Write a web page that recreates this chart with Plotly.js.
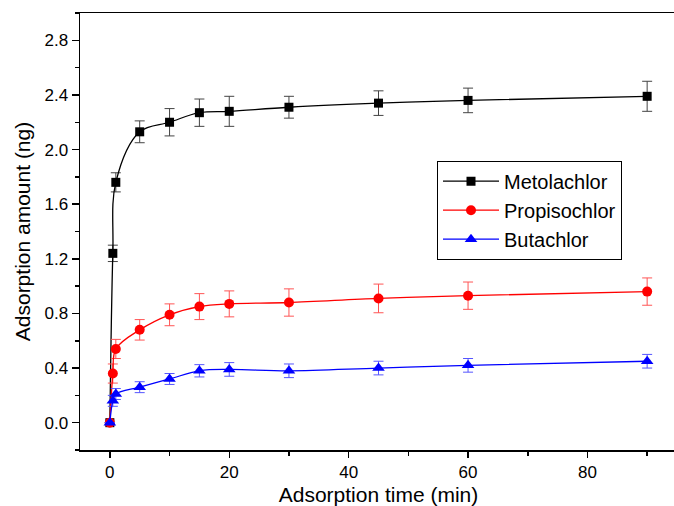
<!DOCTYPE html>
<html>
<head>
<meta charset="utf-8">
<script src="https://cdn.plot.ly/plotly-3.0.1.min.js"></script>
<style>
html,body{margin:0;padding:0;overflow:hidden;background:#fff;}
#chart{width:678px;height:506px;}
</style>
</head>
<body>
<div id="chart"></div>
<script>
var time = [0, 0.5, 1, 5, 10, 15, 20, 30, 45, 60, 90];
var metolachlor = [0, 1.24, 1.76, 2.13, 2.20, 2.27, 2.28, 2.31, 2.34, 2.36, 2.39];
var metolachlorErr = [0, 0.06, 0.07, 0.08, 0.10, 0.10, 0.11, 0.08, 0.09, 0.09, 0.11];
var propisochlor = [0, 0.36, 0.54, 0.68, 0.79, 0.85, 0.87, 0.88, 0.91, 0.93, 0.96];
var propisochlorErr = [0, 0.07, 0.07, 0.075, 0.08, 0.095, 0.095, 0.10, 0.105, 0.10, 0.10];
var butachlor = [0, 0.16, 0.21, 0.26, 0.32, 0.38, 0.39, 0.38, 0.40, 0.42, 0.45];
var butachlorErr = [0, 0.04, 0.04, 0.04, 0.04, 0.045, 0.05, 0.05, 0.05, 0.05, 0.05];
var seriesNames = ['Metolachlor', 'Propisochlor', 'Butachlor'];
var xTicks = [0, 20, 40, 60, 80];
var yTicks = [0.0, 0.4, 0.8, 1.2, 1.6, 2.0, 2.4, 2.8];

function mk(name, y, err, color, errColor, symbol, size) {
  return {
    x: time, y: y, name: name, type: 'scatter', mode: 'lines+markers',
    line: {color: color, width: 1.3, shape: 'spline', smoothing: 1},
    marker: {symbol: symbol, size: size, color: color},
    error_y: {type: 'data', array: err, visible: true, color: errColor, thickness: 1, width: 5}
  };
}

var data = [
  mk(seriesNames[0], metolachlor, metolachlorErr, '#000000', '#444444', 'square', 9),
  mk(seriesNames[1], propisochlor, propisochlorErr, '#ff0000', '#ff5555', 'circle', 10),
  mk(seriesNames[2], butachlor, butachlorErr, '#0000ff', '#5555ff', 'triangle-up', 11)
];

var font = 'Liberation Sans, Arial, sans-serif';
var layout = {
  width: 678, height: 506,
  margin: {l: 80, r: 1, t: 13, b: 56},
  paper_bgcolor: '#fff', plot_bgcolor: '#fff',
  font: {family: font, size: 17, color: '#000'},
  showlegend: true,
  legend: {
    x: 0.598, y: 0.662, xanchor: 'left', yanchor: 'top',
    bgcolor: '#fff', bordercolor: '#000', borderwidth: 1,
    font: {family: font, size: 20, color: '#000'},
    itemwidth: 56, tracegroupgap: 0
  },
  xaxis: {
    range: [-5, 95], tickvals: xTicks, ticktext: xTicks.map(String),
    showgrid: false, zeroline: false,
    showline: true, linecolor: '#000', linewidth: 1.5, mirror: true,
    ticks: 'outside', ticklen: 6, tickwidth: 1.5, tickcolor: '#000',
    minor: {dtick: 10, tick0: 0, ticks: 'outside', ticklen: 4, tickwidth: 1.5, tickcolor: '#000', showgrid: false},
    tickfont: {family: font, size: 17},
    title: {text: 'Adsorption time (min)', font: {family: font, size: 21}, standoff: 7}
  },
  yaxis: {
    range: [-0.2, 3.0], tickvals: yTicks, ticktext: yTicks.map(function(v){return v.toFixed(1);}),
    showgrid: false, zeroline: false,
    showline: true, linecolor: '#000', linewidth: 1.5, mirror: true,
    ticks: 'outside', ticklen: 7, tickwidth: 1.5, tickcolor: '#000',
    minor: {dtick: 0.2, tick0: 0, ticks: 'outside', ticklen: 4, tickwidth: 1.5, tickcolor: '#000', showgrid: false},
    tickfont: {family: font, size: 17},
    title: {text: 'Adsorption amount (ng)', font: {family: font, size: 21}, standoff: 8}
  }
};

Plotly.newPlot('chart', data, layout, {displayModeBar: false, staticPlot: true});
</script>
</body>
</html>
